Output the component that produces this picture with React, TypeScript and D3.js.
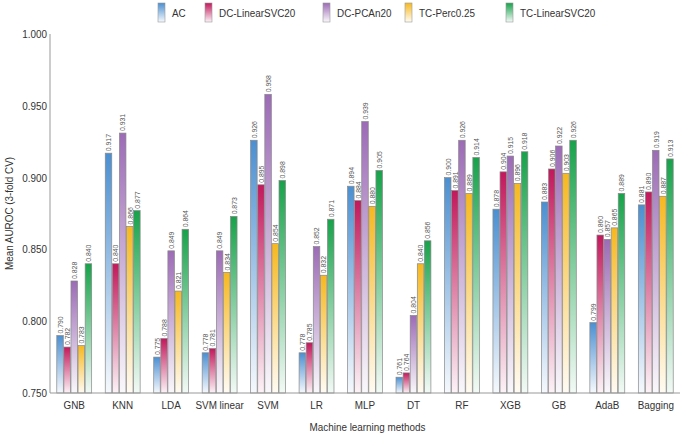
import React from 'react';
import * as d3 from 'd3';

const methods = ['GNB', 'KNN', 'LDA', 'SVM linear', 'SVM', 'LR', 'MLP', 'DT', 'RF', 'XGB', 'GB', 'AdaB', 'Bagging'];
const seriesNames = ['AC', 'DC-LinearSVC20', 'DC-PCAn20', 'TC-Perc0.25', 'TC-LinearSVC20'];
const seriesColors = ['#4b8fd1', '#c2185b', '#9c6bb6', '#f6b81f', '#17a24a'];

const acValues = [0.790, 0.917, 0.775, 0.778, 0.926, 0.778, 0.894, 0.761, 0.900, 0.878, 0.883, 0.799, 0.881];
const dcLinearValues = [0.782, 0.840, 0.788, 0.781, 0.895, 0.785, 0.884, 0.764, 0.891, 0.904, 0.906, 0.860, 0.890];
const dcPcaValues = [0.828, 0.931, 0.849, 0.849, 0.958, 0.852, 0.939, 0.804, 0.926, 0.915, 0.922, 0.857, 0.919];
const tcPercValues = [0.783, 0.866, 0.821, 0.834, 0.854, 0.832, 0.880, 0.840, 0.889, 0.896, 0.903, 0.865, 0.887];
const tcLinearValues = [0.840, 0.877, 0.864, 0.873, 0.898, 0.871, 0.905, 0.856, 0.914, 0.918, 0.926, 0.889, 0.913];

const seriesValues = [acValues, dcLinearValues, dcPcaValues, tcPercValues, tcLinearValues];
const yTicks = [0.75, 0.8, 0.85, 0.9, 0.95, 1.0];

const width = 685;
const height = 436;
const margin = { top: 34, right: 5, bottom: 43, left: 50 };
const font = '"Liberation Sans", Arial, sans-serif';
const SQ = 0.86; // the source font is a narrow grotesque

// text squeezed horizontally
const Txt = ({ x, y, rotate = 0, anchor = 'start', size = 11, fill = '#333', children }) => (
  <text
    transform={`translate(${x},${y}) rotate(${rotate}) scale(${SQ},1)`}
    fontSize={size}
    textAnchor={anchor}
    fill={fill}
  >
    {children}
  </text>
);

const App = () => {
  const x = d3
    .scaleBand()
    .domain(methods)
    .range([margin.left, width - margin.right])
    .paddingInner(0.28)
    .paddingOuter(0.14);
  const x1 = d3
    .scaleBand()
    .domain(seriesNames)
    .range([0, x.bandwidth()])
    .paddingInner(0.08);
  const y = d3
    .scaleLinear()
    .domain([0.75, 1.0])
    .range([height - margin.bottom, margin.top]);
  const fmt = d3.format('.3f');
  const fade = (c) => d3.interpolateRgb(c, '#ffffff')(0.95);

  const legendX = [158, 205, 323, 405, 506];

  return (
    <svg
      width={width}
      height={height}
      style={{ position: 'absolute', left: 0, top: 0, fontFamily: font }}
    >
      <defs>
        {seriesColors.map((c, i) => (
          <linearGradient key={i} id={`grad${i}`} x1="0" y1="0" x2="0" y2="1">
            <stop offset="0%" stopColor={c} />
            <stop offset="100%" stopColor={fade(c)} />
          </linearGradient>
        ))}
      </defs>

      {/* legend */}
      {seriesNames.map((s, i) => (
        <g key={s} transform={`translate(${legendX[i]},3)`}>
          <rect width={7} height={19} fill={`url(#grad${i})`} stroke="#999" strokeWidth={0.6} />
          <Txt x={14} y={14} size={11.5}>{s}</Txt>
        </g>
      ))}

      {/* bars */}
      {methods.map((m, mi) => (
        <g key={m} transform={`translate(${x(m)},0)`}>
          {seriesNames.map((s, si) => {
            const v = seriesValues[si][mi];
            const bx = x1(s);
            const by = y(v);
            return (
              <g key={s}>
                <rect
                  x={bx}
                  y={by}
                  width={x1.bandwidth()}
                  height={y(0.75) - by}
                  fill={`url(#grad${si})`}
                  stroke="#888"
                  strokeWidth={0.7}
                />
                <Txt x={bx + x1.bandwidth() / 2 + 2.8} y={by - 2} rotate={-90} size={8} fill="#555">
                  {fmt(v)}
                </Txt>
              </g>
            );
          })}
        </g>
      ))}

      {/* y axis */}
      <line x1={margin.left} x2={margin.left} y1={margin.top} y2={y(0.75)} stroke="#999" />
      {yTicks.map((t) => (
        <Txt key={t} x={margin.left - 3} y={y(t) + 4} anchor="end" size={11.5}>
          {fmt(t)}
        </Txt>
      ))}
      <Txt x={13} y={(margin.top + y(0.75)) / 2} rotate={-90} anchor="middle" size={11.5}>
        Mean AUROC (3-fold CV)
      </Txt>

      {/* x axis */}
      <line x1={margin.left} x2={width - margin.right} y1={y(0.75)} y2={y(0.75)} stroke="#999" />
      {methods.map((m) => (
        <Txt key={m} x={x(m) + x.bandwidth() / 2} y={y(0.75) + 16} anchor="middle" size={11.5}>
          {m}
        </Txt>
      ))}
      <Txt x={(margin.left + width) / 2} y={431} anchor="middle" size={11.5}>
        Machine learning methods
      </Txt>
    </svg>
  );
};

export default App;
